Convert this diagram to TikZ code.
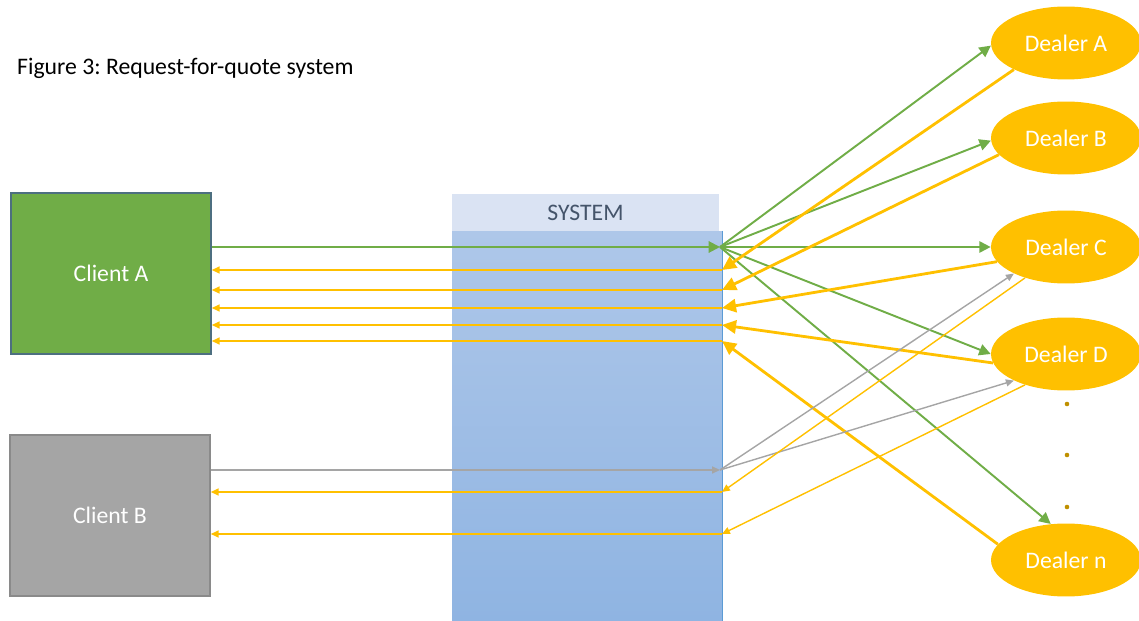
\documentclass[tikz,border=0pt]{standalone}
\usepackage{fontspec}
\setmainfont{Carlito}
\usetikzlibrary{positioning,shapes.geometric,arrows.meta}
\frenchspacing

\definecolor{cgreen}{HTML}{70AD47}
\definecolor{corange}{HTML}{FFC000}
\definecolor{cgray}{HTML}{A5A5A5}
\definecolor{cgold}{HTML}{BF9000}
\definecolor{cAedge}{HTML}{4D6F80}
\definecolor{cBedge}{HTML}{8A8A8A}
\definecolor{sysfill}{HTML}{DAE3F3}
\definecolor{systop}{HTML}{AEC7E9}
\definecolor{sysbot}{HTML}{8FB4E2}
\definecolor{sysedge}{HTML}{5B9BD5}
\definecolor{systext}{HTML}{44546A}

\begin{document}
\begin{tikzpicture}[x=0.02cm, y=-0.02cm,
  every node/.style={font=\fontsize{13.5}{16}\selectfont},
  client/.style={draw, line width=0.9pt, minimum width=4cm, minimum height=3.22cm, text=white},
  dealer/.style={ellipse, fill=corange, minimum width=3cm, minimum height=1.46cm, inner sep=0pt, text=white},
  req/.style={draw=cgreen, line width=1.1pt, -{Triangle[length=6.5pt,width=6.5pt]}},
  quote/.style={draw=corange, line width=1.6pt, -{Triangle[length=8pt,width=7.5pt]}},
  relay/.style={draw=corange, line width=0.8pt, -{Triangle[length=4.5pt,width=4pt]}},
  relaygray/.style={draw=cgray, line width=0.8pt, -{Triangle[length=4.5pt,width=4pt]}},
  dotmark/.style={circle, fill=cgold, inner sep=0pt, minimum size=2.6pt}
]
  \useasboundingbox (0,0) rectangle (1139,621);

  \node[anchor=west] (title) at (11,68) {Figure 3: Request-for-quote system};

  % the system column
  \node[top color=systop, bottom color=sysbot, minimum width=5.4cm, minimum height=7.8cm, inner sep=0pt] (sys) at (587,426) {};
  \draw[sysedge, line width=0.6pt] (sys.north east) -- (sys.south east);
  \node[fill=sysfill, text=systext, minimum width=5.34cm, minimum height=0.74cm, inner sep=0pt] (syshead) at (585.5,212.5) {SYSTEM};

  \node[client, fill=cgreen, draw=cAedge] (cA) at (111,273.5) {Client A};
  \node[client, fill=cgray, draw=cBedge] (cB) at (110,515.5) {Client B};

  \node[dealer] (dA) at (1066,43) {Dealer A};
  \node[dealer] (dB) at (1066,138) {Dealer B};
  \node[dealer] (dC) at (1066,247) {Dealer C};
  \node[dealer] (dD) at (1066,354) {Dealer D};
  \node[dealer] (dn) at (1066,560) {Dealer n};

  \node[dotmark] (dot1) at (1067,404) {};
  \node[dotmark] (dot2) at (1067,455) {};
  \node[dotmark] (dot3) at (1067,507) {};

  \coordinate (hubA) at (720,247);
  \coordinate (qA) at (722,270);
  \coordinate (qB) at (722,290);
  \coordinate (qC) at (722,308);
  \coordinate (qD) at (722,325);
  \coordinate (qn) at (722,341);
  \coordinate (hubB) at (720,470);
  \coordinate (qC2) at (722,492);
  \coordinate (qD2) at (722,534);

  % client A asks every dealer
  \draw[req] (cA.east |- hubA) -- (hubA);
  \draw[req] (hubA) -- (dA.182);
  \draw[req] (hubA) -- (dB.182);
  \draw[req] (hubA) -- (dC.west);
  \draw[req] (hubA) -- (dD.west);
  \draw[req] (hubA) -- (dn.113);

  \draw[quote] (dA.207) -- (qA);
  \draw[quote] (dB.194) -- (qB);
  \draw[quote] (dC.192) -- (qC);
  \draw[quote] (dD.187) -- (qD);
  \draw[quote] (dn.167) -- (qn);

  \draw[relay] (qA) -- (cA.east |- qA);
  \draw[relay] (qB) -- (cA.east |- qB);
  \draw[relay] (qC) -- (cA.east |- qC);
  \draw[relay] (qD) -- (cA.east |- qD);
  \draw[relay] (qn) -- (cA.east |- qn);

  % client B asks two dealers
  \draw[relaygray] (cB.east |- hubB) -- (hubB);
  \draw[relaygray] (hubB) -- (dC.207);
  \draw[relaygray] (hubB) -- (dD.207);

  \draw[relay] (dC.217) -- (qC2);
  \draw[relay] (dD.217) -- (qD2);
  \draw[relay] (qC2) -- (cB.east |- qC2);
  \draw[relay] (qD2) -- (cB.east |- qD2);

\end{tikzpicture}
\end{document}
